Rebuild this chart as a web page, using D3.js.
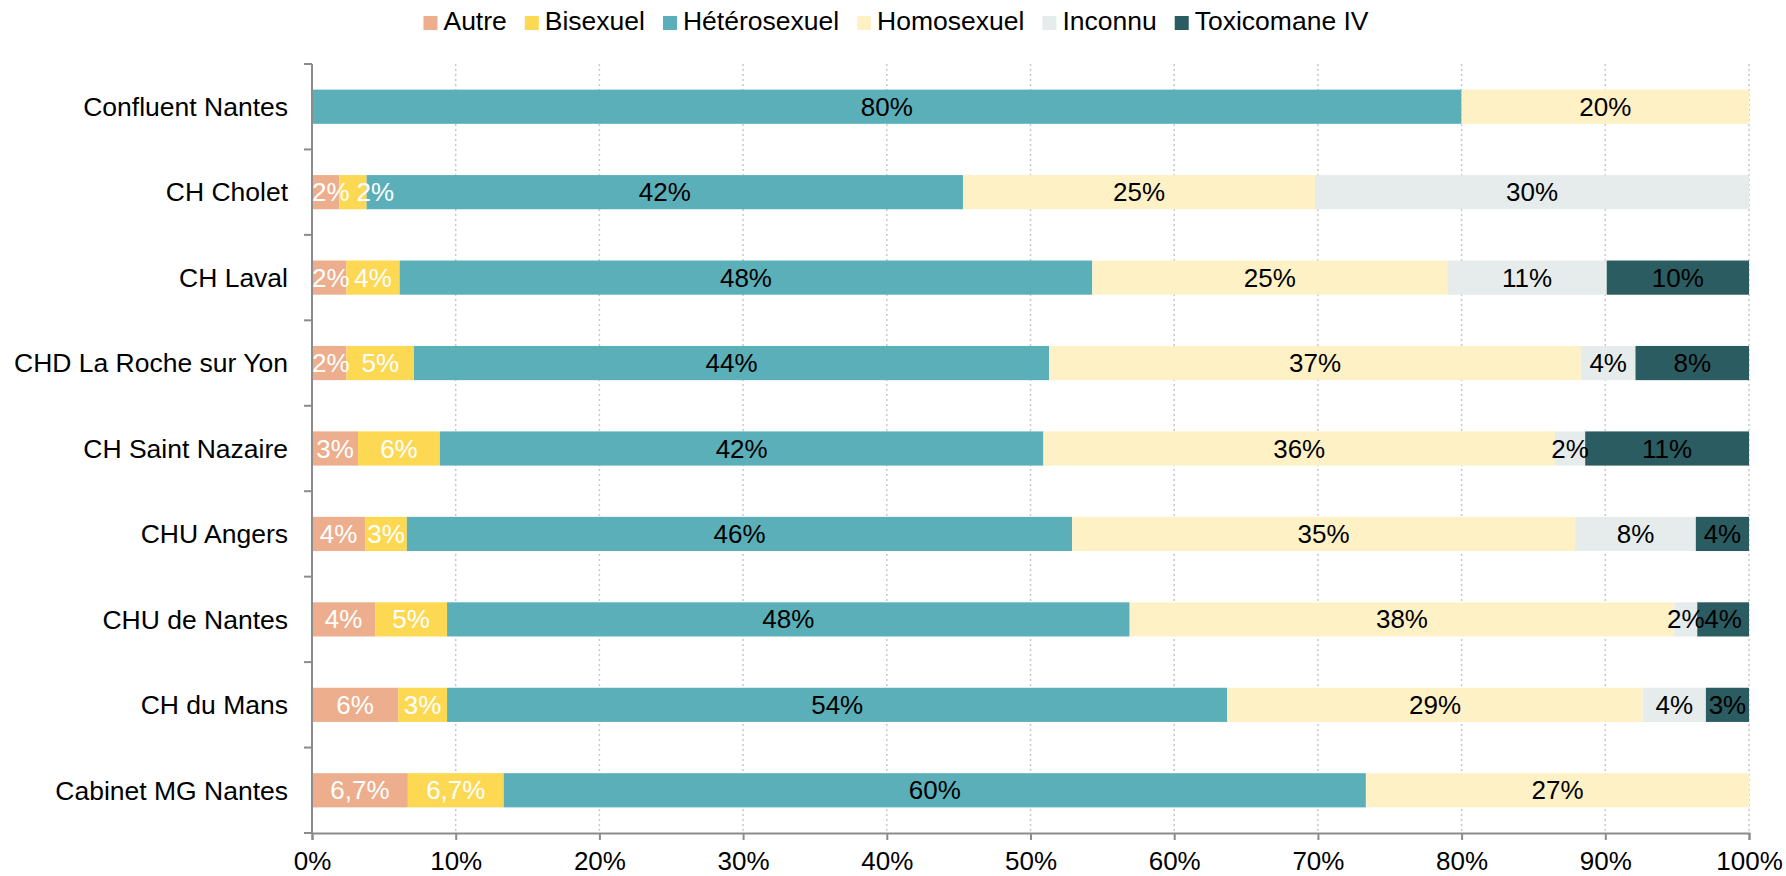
<!DOCTYPE html>
<html>
<head>
<meta charset="utf-8">
<script src="https://cdn.jsdelivr.net/npm/d3@7"></script>
<style>
  html, body { margin: 0; padding: 0; background: #fff; }
  svg text { font-family: "Liberation Sans", Arial, sans-serif; }
</style>
</head>
<body>
<div id="chart"></div>
<script>
const sites = [
  'Confluent Nantes', 'CH Cholet', 'CH Laval', 'CHD La Roche sur Yon', 'CH Saint Nazaire',
  'CHU Angers', 'CHU de Nantes', 'CH du Mans', 'Cabinet MG Nantes',
];
const groups = ['Autre', 'Bisexuel', 'Hétérosexuel', 'Homosexuel', 'Inconnu', 'Toxicomane IV'];
const groupColors = ['#ecae8c', '#fdd853', '#5aafb8', '#fff1c6', '#e6eceb', '#2b5c61'];
const labelColors = ['#ffffff', '#ffffff', '#000000', '#000000', '#000000', '#000000'];

// percentages per group, in site order
const autre      = [0,   1.9, 2.4, 2.4, 3.2, 3.7, 4.4, 6.0, 6.67];
const bisexuel   = [0,   1.9, 3.7, 4.7, 5.7, 2.9, 5.0, 3.4, 6.67];
const hetero     = [80, 41.5, 48.2, 44.2, 42.0, 46.3, 47.5, 54.3, 60];
const homo       = [20, 24.5, 24.7, 37.0, 35.6, 35.0, 37.9, 28.9, 26.67];
const inconnu    = [0,  30.2, 11.1, 3.8, 2.1, 8.4, 1.6, 4.4, 0];
const toxicomane = [0,   0,   9.9, 7.9, 11.4, 3.7, 3.6, 3.0, 0];

// labels shown with one decimal
const oneDecimal = { 'Cabinet MG Nantes': ['Autre', 'Bisexuel'] };

const xTicks = [0, 10, 20, 30, 40, 50, 60, 70, 80, 90, 100];

const series = [autre, bisexuel, hetero, homo, inconnu, toxicomane];
const rows = sites.map((s, i) => {
  const r = { site: s };
  groups.forEach((g, j) => { r[g] = series[j][i]; });
  return r;
});

const width = 1786, height = 876;
const margin = { top: 64, right: 37, bottom: 43, left: 312 };
const fontSize = 26;
const catFontSize = 26.5;

const svg = d3.select('#chart').append('svg')
  .attr('width', width)
  .attr('height', height);

const x = d3.scaleLinear().domain([0, 100]).range([margin.left, width - margin.right]);
const y = d3.scaleBand().domain(sites).range([margin.top, height - margin.bottom]).paddingInner(0.6).paddingOuter(0.3);

// grid
svg.append('g').attr('class', 'grid')
  .selectAll('line')
  .data(xTicks.filter(t => t > 0))
  .join('line')
  .attr('x1', d => x(d)).attr('x2', d => x(d))
  .attr('y1', margin.top).attr('y2', height - margin.bottom)
  .attr('stroke', '#c8c8c8')
  .attr('stroke-width', 1.5)
  .attr('stroke-dasharray', '2,3');

const stack = d3.stack().keys(groups)(rows);

const layers = svg.append('g').attr('class', 'bars')
  .selectAll('g')
  .data(stack)
  .join('g')
  .attr('fill', (d, i) => groupColors[i]);

layers.selectAll('rect')
  .data(d => d)
  .join('rect')
  .attr('x', d => x(d[0]))
  .attr('width', d => x(d[1]) - x(d[0]))
  .attr('y', d => y(d.data.site))
  .attr('height', y.bandwidth());

const fmt0 = v => Math.round(v) + '%';
const fmt1 = v => d3.format('.1f')(v).replace('.', ',') + '%';

// data labels, centred in each segment, nudged right where they clearly collide
const labelG = svg.append('g').attr('class', 'labels');
sites.forEach((site, si) => {
  let prevRight = null;
  stack.forEach((layer, i) => {
    const d = layer[si];
    const v = d[1] - d[0];
    if (v <= 0) return;
    const od = oneDecimal[site];
    const t = labelG.append('text')
      .attr('y', y(site) + y.bandwidth() / 2)
      .attr('dy', '0.35em')
      .attr('font-size', fontSize)
      .attr('fill', labelColors[i])
      .text(od && od.includes(layer.key) ? fmt1(v) : fmt0(v));
    const w = t.node().getComputedTextLength();
    let left = (x(d[0]) + x(d[1])) / 2 - w / 2;
    if (left < x(0)) left = x(0);
    if (prevRight !== null && left < prevRight - 3) left = prevRight + 7;
    t.attr('x', left);
    prevRight = left + w;
  });
});

// axes
const axisColor = '#8c8c8c';
const xAxis = svg.append('g')
  .attr('transform', `translate(0,${height - margin.bottom})`)
  .call(d3.axisBottom(x).tickValues(xTicks).tickFormat(d => d + '%').tickSize(7).tickPadding(12));
xAxis.select('.domain').attr('stroke', axisColor).attr('stroke-width', 2);
xAxis.selectAll('.tick line').attr('stroke', axisColor).attr('stroke-width', 2);
xAxis.selectAll('.tick text').attr('font-size', fontSize).attr('fill', '#000')
  .attr('font-family', '"Liberation Sans", Arial, sans-serif');

// y axis line and boundary ticks
const yg = svg.append('g').attr('class', 'y-axis');
yg.append('line')
  .attr('x1', margin.left).attr('x2', margin.left)
  .attr('y1', margin.top).attr('y2', height - margin.bottom)
  .attr('stroke', axisColor).attr('stroke-width', 2);
const bounds = d3.range(sites.length + 1).map(i => margin.top + i * (height - margin.top - margin.bottom) / sites.length);
yg.selectAll('line.tick')
  .data(bounds)
  .join('line')
  .attr('class', 'tick')
  .attr('x1', margin.left - 8).attr('x2', margin.left)
  .attr('y1', d => d).attr('y2', d => d)
  .attr('stroke', axisColor).attr('stroke-width', 2);
yg.selectAll('text')
  .data(sites)
  .join('text')
  .attr('x', margin.left - 24)
  .attr('y', d => y(d) + y.bandwidth() / 2)
  .attr('dy', '0.35em')
  .attr('text-anchor', 'end')
  .attr('font-size', catFontSize)
  .attr('fill', '#000')
  .text(d => d);

// legend
const legend = svg.append('g').attr('class', 'legend');
let lx = 0;
groups.forEach((g, i) => {
  const item = legend.append('g').attr('transform', `translate(${lx},0)`);
  item.append('rect')
    .attr('x', 0).attr('y', 16).attr('width', 14).attr('height', 14)
    .attr('fill', groupColors[i]);
  const t = item.append('text')
    .attr('x', 20).attr('y', 21).attr('dy', '0.35em')
    .attr('font-size', catFontSize)
    .attr('fill', '#000')
    .text(g);
  lx += 20 + t.node().getComputedTextLength() + 18;
});
const legendW = lx - 18;
legend.attr('transform', `translate(${896 - legendW / 2},0)`);
</script>
</body>
</html>
